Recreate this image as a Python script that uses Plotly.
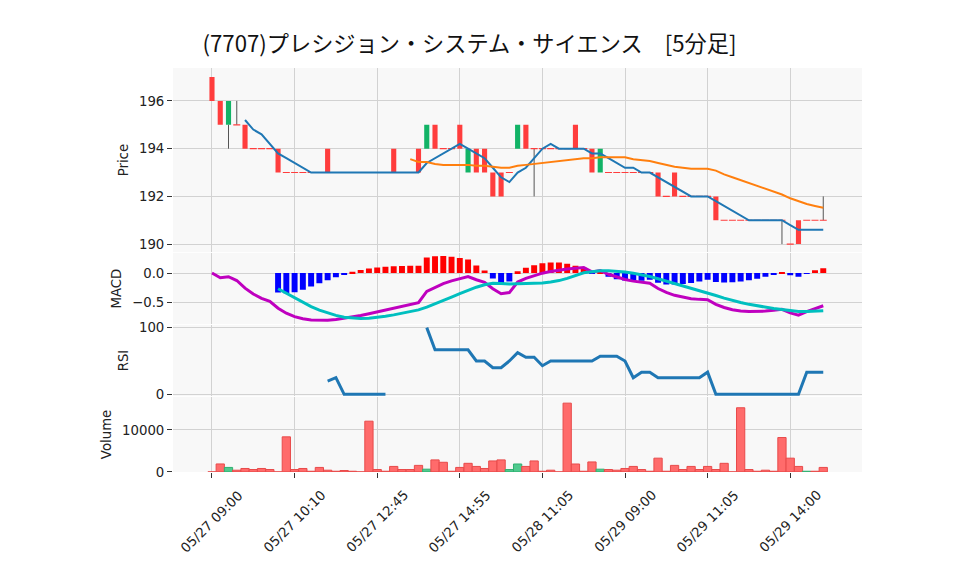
import plotly.graph_objects as go
from plotly.subplots import make_subplots

TITLE = "(7707)プレシジョン・システム・サイエンス\u3000[5分足]"

TICK_POS = [0, 10, 20, 30, 40, 50, 60, 70]
TICK_TEXT = ["05/27 09:00", "05/27 10:10", "05/27 12:45", "05/27 14:55",
             "05/28 11:05", "05/29 09:00", "05/29 11:05", "05/29 14:00"]

# 5-minute bars (index = bar number)
OPEN = [197, 196, 195, 195, 195, 194, 194, 194, 194, 193,
        193, 193, 193, 193, 194, 193, 193, 193, 193, 193,
        193, 193, 194, 193, 193, 194, 194, 195, 194, 194,
        195, 193, 194, 194, 193, 193, 193, 194, 195, 194,
        194, 194, 194, 194, 195, 194, 194, 193, 193, 193,
        193, 193, 193, 193, 193, 192, 193, 192, 192, 192,
        192, 192, 191, 191, 191, 191, 191, 191, 191, 191,
        190, 191, 191, 191, 191]
HIGH = [197, 196, 196, 196, 195, 194, 194, 194, 194, 193,
        193, 193, 193, 193, 194, 193, 193, 193, 193, 193,
        193, 193, 194, 193, 193, 194, 195, 195, 194, 194,
        195, 194, 194, 194, 193, 193, 193, 195, 195, 194,
        194, 194, 194, 194, 195, 194, 194, 194, 193, 193,
        193, 193, 193, 193, 193, 192, 193, 192, 192, 192,
        192, 192, 191, 191, 191, 191, 191, 191, 191, 191,
        190, 191, 191, 191, 192]
LOW = [196, 195, 194, 195, 194, 194, 194, 194, 193, 193,
       193, 193, 193, 193, 193, 193, 193, 193, 193, 193,
       193, 193, 193, 193, 193, 193, 194, 194, 194, 194,
       194, 193, 193, 193, 192, 192, 193, 194, 194, 192,
       194, 194, 194, 194, 194, 194, 193, 193, 193, 193,
       193, 193, 193, 193, 192, 192, 192, 192, 192, 192,
       192, 191, 191, 191, 191, 191, 191, 191, 191, 190,
       190, 190, 191, 191, 191]
CLOSE = [196, 195, 196, 195, 194, 194, 194, 194, 193, 193,
         193, 193, 193, 193, 193, 193, 193, 193, 193, 193,
         193, 193, 193, 193, 193, 193, 195, 194, 194, 194,
         194, 194, 193, 193, 192, 192, 193, 195, 194, 194,
         194, 194, 194, 194, 194, 194, 193, 194, 193, 193,
         193, 193, 193, 193, 192, 192, 192, 192, 192, 192,
         192, 191, 191, 191, 191, 191, 191, 191, 191, 191,
         190, 190, 191, 191, 191]

SMA5 = [None, None, None, None, 195.2, 194.8, 194.6, 194.2, 193.8, 193.6,
        193.4, 193.2, 193.0, 193.0, 193.0, 193.0, 193.0, 193.0, 193.0, 193.0,
        193.0, 193.0, 193.0, 193.0, 193.0, 193.0, 193.4, 193.6, 193.8, 194.0,
        194.2, 194.0, 193.8, 193.6, 193.2, 192.8, 192.6, 193.0, 193.2, 193.6,
        194.0, 194.2, 194.0, 194.0, 194.0, 194.0, 193.8, 193.8, 193.6, 193.4,
        193.2, 193.2, 193.0, 193.0, 192.8, 192.6, 192.4, 192.2, 192.0, 192.0,
        192.0, 191.8, 191.6, 191.4, 191.2, 191.0, 191.0, 191.0, 191.0, 191.0,
        190.8, 190.6, 190.6, 190.6, 190.6]
SMA25 = [None] * 24 + [
    193.56, 193.44, 193.44, 193.36, 193.32, 193.32, 193.32, 193.32, 193.28, 193.28,
    193.24, 193.20, 193.20, 193.28, 193.32, 193.36, 193.40, 193.44, 193.48, 193.52,
    193.56, 193.60, 193.60, 193.64, 193.64, 193.64, 193.64, 193.56, 193.52, 193.48,
    193.40, 193.32, 193.24, 193.20, 193.16, 193.16, 193.16, 193.08, 192.92, 192.80,
    192.68, 192.56, 192.44, 192.32, 192.20, 192.08, 191.92, 191.80, 191.68, 191.60,
    191.52]

MACD = [0.000, -0.080, -0.061, -0.126, -0.255, -0.353, -0.426, -0.478, -0.594, -0.678,
        -0.735, -0.772, -0.792, -0.799, -0.795, -0.783, -0.764, -0.741, -0.715, -0.686,
        -0.655, -0.623, -0.591, -0.560, -0.529, -0.499, -0.310, -0.238, -0.179, -0.131,
        -0.092, -0.059, -0.113, -0.155, -0.264, -0.348, -0.329, -0.151, -0.090, -0.041,
        -0.002, 0.028, 0.051, 0.069, 0.083, 0.093, 0.019, 0.041, -0.021, -0.070,
        -0.108, -0.136, -0.157, -0.172, -0.261, -0.327, -0.376, -0.410, -0.432, -0.444,
        -0.449, -0.527, -0.581, -0.618, -0.640, -0.649, -0.649, -0.642, -0.629, -0.611,
        -0.671, -0.710, -0.652, -0.600, -0.552]
SIGNAL = [None] * 8 + [
    -0.264, -0.339, -0.412, -0.491, -0.565, -0.625, -0.674, -0.714, -0.746, -0.762,
    -0.766, -0.761, -0.748, -0.729, -0.706, -0.680, -0.652, -0.622, -0.574, -0.521,
    -0.465, -0.407, -0.348, -0.289, -0.239, -0.197, -0.171, -0.175, -0.186, -0.182,
    -0.178, -0.172, -0.166, -0.150, -0.127, -0.090, -0.042, 0.004, 0.023, 0.038,
    0.040, 0.033, 0.017, -0.003, -0.028, -0.057, -0.096, -0.135, -0.181, -0.224,
    -0.264, -0.302, -0.336, -0.378, -0.423, -0.463, -0.497, -0.528, -0.554, -0.578,
    -0.598, -0.616, -0.632, -0.647, -0.650, -0.646, -0.635]
HIST = [None] * 8 + [
    -0.330, -0.339, -0.323, -0.281, -0.227, -0.174, -0.121, -0.069, -0.018, 0.021,
    0.051, 0.075, 0.093, 0.106, 0.115, 0.120, 0.123, 0.123, 0.264, 0.283,
    0.286, 0.276, 0.256, 0.230, 0.126, 0.042, -0.093, -0.173, -0.143, 0.031,
    0.088, 0.131, 0.164, 0.178, 0.178, 0.159, 0.125, 0.089, -0.004, 0.003,
    -0.061, -0.103, -0.125, -0.133, -0.129, -0.115, -0.165, -0.192, -0.195, -0.186,
    -0.168, -0.142, -0.113, -0.149, -0.158, -0.155, -0.143, -0.121, -0.095, -0.064,
    -0.031, 0.005, -0.039, -0.063, -0.002, 0.046, 0.083]

RSI = [None] * 14 + [20.0, 25.0, 0, 0, 0, 0, 0, 0,
                     None, None, None, None,
                     100.0, 66.7, 66.7, 66.7, 66.7, 66.7, 50.0, 50.0, 40.0, 40.0,
                     50.0, 62.5, 55.6, 55.6, 42.9, 50.0, 50.0, 50.0, 50.0, 50.0,
                     50.0, 57.1, 57.1, 57.1, 50.0, 25.0, 33.3, 33.3, 25.0, 25.0,
                     25.0, 25.0, 25.0, 25.0, 33.3, 0, 0, 0, 0, 0,
                     0, 0, 0, 0, 0, 0, 33.3, 33.3, 33.3]

VOLUME = [0, 1900, 1070, 410, 820, 570, 820, 570, 0, 8360,
          570, 820, 160, 1070, 410, 160, 330, 160, 0, 12100,
          570, 160, 1310, 570, 570, 1560, 650, 2870, 2300, 160,
          1070, 2050, 1310, 820, 2620, 2870, 570, 1890, 1310, 2620,
          160, 410, 0, 16400, 1890, 160, 2380, 650, 570, 410,
          820, 1310, 570, 160, 3280, 160, 1560, 570, 1310, 570,
          1310, 570, 2050, 0, 15300, 570, 160, 410, 160, 8200,
          3280, 1310, 160, 160, 1070]

UP = "#12b366"
DOWN = "#ff3d3d"
VOL_UP = "#4fc98e"
VOL_DOWN = "#ff6b6b"
FONT = "DejaVu Sans, sans-serif"
TXT = "#222222"

n = len(CLOSE)
idx = list(range(n))

fig = make_subplots(rows=4, cols=1, shared_xaxes=True, vertical_spacing=0.004)

# wicks (only the parts outside the body)
wx, wy = [], []
for i in idx:
    lo, hi = min(OPEN[i], CLOSE[i]), max(OPEN[i], CLOSE[i])
    if LOW[i] < lo:
        wx += [i, i, None]
        wy += [LOW[i], lo, None]
    if HIGH[i] > hi:
        wx += [i, i, None]
        wy += [hi, HIGH[i], None]
fig.add_trace(go.Scatter(x=wx, y=wy, mode="lines", line=dict(color="#555555", width=1),
                         hoverinfo="skip"), row=1, col=1)

body = [i for i in idx if OPEN[i] != CLOSE[i]]
fig.add_trace(go.Bar(
    x=body,
    base=[min(OPEN[i], CLOSE[i]) for i in body],
    y=[abs(CLOSE[i] - OPEN[i]) for i in body],
    width=0.62,
    marker=dict(color=[UP if CLOSE[i] > OPEN[i] else DOWN for i in body], line_width=0),
), row=1, col=1)

doji = [i for i in idx if OPEN[i] == CLOSE[i]]
fig.add_trace(go.Scatter(
    x=doji, y=[CLOSE[i] for i in doji], mode="markers",
    marker=dict(symbol="line-ew", size=5, color=DOWN, line=dict(color=DOWN, width=1.2)),
), row=1, col=1)

fig.add_trace(go.Scatter(x=idx, y=SMA5, mode="lines", line=dict(color="#1f77b4", width=2)),
              row=1, col=1)
fig.add_trace(go.Scatter(x=idx, y=SMA25, mode="lines", line=dict(color="#ff7f0e", width=2)),
              row=1, col=1)

# MACD
fig.add_trace(go.Bar(
    x=idx, y=HIST, width=0.72,
    marker=dict(color=["#ff0000" if (h or 0) >= 0 else "#0000ff" for h in HIST], line_width=0),
), row=2, col=1)
fig.add_trace(go.Scatter(x=idx, y=MACD, mode="lines", line=dict(color="#bf00bf", width=3)),
              row=2, col=1)
fig.add_trace(go.Scatter(x=idx, y=SIGNAL, mode="lines", line=dict(color="#00bfbf", width=3)),
              row=2, col=1)

# RSI
fig.add_trace(go.Scatter(x=idx, y=RSI, mode="lines", line=dict(color="#1f77b4", width=3)),
              row=3, col=1)

# Volume
vol_col = [VOL_DOWN] + [VOL_UP if CLOSE[i] > CLOSE[i - 1] else VOL_DOWN for i in idx[1:]]
vol_line = ["#e84a4a" if c == VOL_DOWN else "#2fb070" for c in vol_col]
fig.add_trace(go.Bar(
    x=idx, y=VOLUME, width=1.0,
    marker=dict(color=vol_col, line=dict(color=vol_line, width=1)),
), row=4, col=1)

GRID = "#d2d2d2"
axis_common = dict(showgrid=True, gridcolor=GRID, gridwidth=1, zeroline=False,
                   ticks="outside", ticklen=5, tickcolor="#333", showline=False,
                   automargin=False,
                   tickfont=dict(family=FONT, size=13.3, color=TXT),
                   title_font=dict(family=FONT, size=13.3, color=TXT),
                   title_standoff=7)

for r in range(1, 5):
    fig.update_xaxes(range=[-4.72, 78.69], tickmode="array", tickvals=TICK_POS,
                     showgrid=True, gridcolor=GRID, zeroline=False, showticklabels=False,
                     row=r, col=1)
fig.update_xaxes(ticks="", row=1, col=1)
fig.update_xaxes(ticks="", row=2, col=1)
fig.update_xaxes(ticks="", row=3, col=1)
fig.update_xaxes(ticks="outside", ticklen=5, tickcolor="#333", row=4, col=1)

fig.update_yaxes(domain=[0.544, 1.0], range=[189.66, 197.38], dtick=2, title_text="Price",
                 **axis_common, row=1, col=1)
fig.update_yaxes(domain=[0.366, 0.542], range=[-0.862, 0.338], dtick=0.5, tickformat=".1f",
                 title_text="MACD", **axis_common, row=2, col=1)
fig.update_yaxes(domain=[0.188, 0.364], range=[-2.5, 104.0], tickvals=[0, 100],
                 title_text="RSI", **axis_common, row=3, col=1)
fig.update_yaxes(domain=[0.0, 0.186], range=[-20, 17900], tickvals=[0, 10000], tickformat="d",
                 title_text="Volume", **axis_common, row=4, col=1)

# rotated date labels, centred on their ticks
for pos, txt in zip(TICK_POS, TICK_TEXT):
    fig.add_annotation(x=pos, y=-0.122, xref="x4", yref="paper", text=txt, showarrow=False,
                       textangle=-45, xanchor="center", yanchor="middle",
                       font=dict(family=FONT, size=13.3, color=TXT))

fig.update_layout(
    width=942, height=559,
    title=dict(text=TITLE, x=(469.5 - 8) / 942, xanchor="center", y=1 - 36 / 559,
               yanchor="middle", yref="container",
               font=dict(family="Noto Sans CJK JP", size=22.2, color="#111111")),
    margin=dict(l=165, r=88, t=60, b=95),
    plot_bgcolor="#f8f8f8",
    paper_bgcolor="white",
    barmode="overlay",
    showlegend=False,
    font=dict(family=FONT, size=13.3, color=TXT),
)

fig.write_html("out.html")
